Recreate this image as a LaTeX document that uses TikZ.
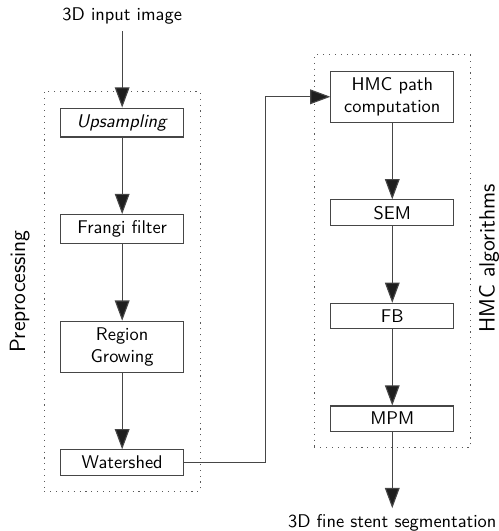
\documentclass[tikz,border=0pt]{standalone}
\usepackage{tikz}
\usetikzlibrary{
  arrows.meta,
  positioning,
  fit
}
\renewcommand{\familydefault}{\sfdefault}
\definecolor{LineGray}{RGB}{70,70,70}
\definecolor{TipBlack}{RGB}{30,30,30}
\definecolor{FrameGray}{RGB}{90,90,90}
\tikzset{
  procbox/.style={
    draw=LineGray,
    fill=white,
    minimum width=64.7pt,
    text width=60pt,
    align=center,
    line width=0.6pt
  },
  groupbox/.style={
    draw=FrameGray,
    line width=0.6pt,
    dash pattern=on 0.6pt off 2.6pt,
    inner sep=8.7pt
  },
  grouplabel/.style={rotate=90, font=\large, inner sep=1pt},
  ioText/.style={inner sep=3.33pt},
  arrow/.style={-{Triangle[length=11pt,width=8pt,fill=TipBlack]},line width=0.6pt,draw=LineGray}
}
\begin{document}
\begin{tikzpicture}[node distance=41.6pt]
  \useasboundingbox (0,0) rectangle (270.7pt,-288.6pt);

  % preprocessing column
  \node[procbox] (up) at (66.4pt,-66.6pt) {\textit{Upsampling}};
  \node[procbox, below=of up] (frangi) {Frangi filter};
  \node[procbox, below=of frangi] (rg) {Region\\Growing};
  \node[procbox, below=of rg] (ws) {Watershed};
  \node[ioText, above=of up] (in) {3D input image};

  % HMC column
  \node[procbox] (hmc) at (213.2pt,-52.6pt) {HMC path\\computation};
  \node[procbox, below=of hmc] (sem) {SEM};
  \node[procbox, below=of sem] (fb) {FB};
  \node[procbox, below=of fb] (mpm) {MPM};
  \node[ioText, below=of mpm] (out) {3D fine stent segmentation};

  % groups
  \node[groupbox, fit=(up)(ws)] (prep) {};
  \node[groupbox, fit=(hmc)(mpm)] (algo) {};
  \node[grouplabel, anchor=south] at ([xshift=-6.4pt]prep.west) {Preprocessing};
  \node[grouplabel, anchor=north] at ([xshift=3.3pt,yshift=-4pt]algo.east) {HMC algorithms};

  \draw[arrow] (in) -- (up);
  \draw[arrow] (up) -- (frangi);
  \draw[arrow] (frangi) -- (rg);
  \draw[arrow] (rg) -- (ws);
  \draw[arrow] (ws.east) -- ++(44.4pt,0) |- (hmc.west);
  \draw[arrow] (hmc) -- (sem);
  \draw[arrow] (sem) -- (fb);
  \draw[arrow] (fb) -- (mpm);
  \draw[arrow] (mpm) -- (out);
\end{tikzpicture}
\end{document}
